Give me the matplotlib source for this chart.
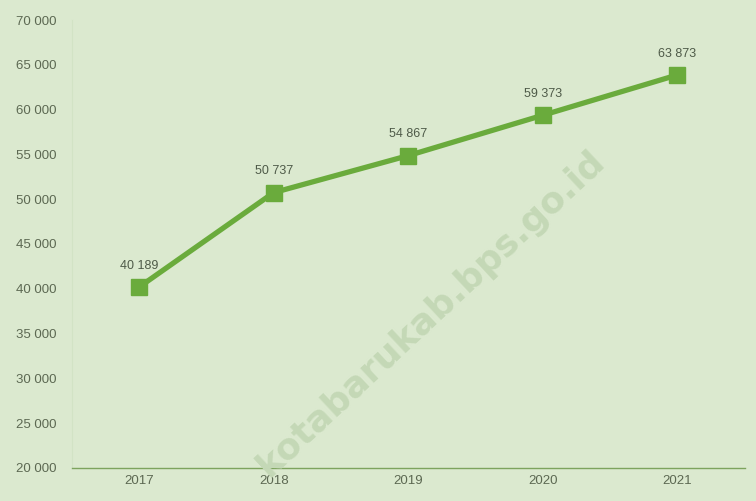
import matplotlib.pyplot as plt

plt.rcParams["font.family"] = ["Liberation Sans", "DejaVu Sans"]

years = ["2017", "2018", "2019", "2020", "2021"]
values = [40189, 50737, 54867, 59373, 63873]
labels = ["40 189", "50 737", "54 867", "59 373", "63 873"]
yticks = list(range(20000, 70001, 5000))

bg = "#dbe9cf"
line_col = "#6aab3c"
txt_col = "#5c6852"

fig = plt.figure(figsize=(7.56, 5.01), dpi=100, facecolor=bg)
ax = fig.add_axes([0.095, 0.066, 0.89, 0.894], facecolor=bg)

x = range(len(years))
ax.plot(x, values, color=line_col, lw=3.8, marker="s", ms=12,
        markerfacecolor=line_col, markeredgecolor=line_col,
        solid_joinstyle="round", zorder=3)

for i, (v, lab) in enumerate(zip(values, labels)):
    ax.annotate(lab, (i, v), xytext=(0, 11), textcoords="offset points",
                ha="center", va="bottom", fontsize=9, color="#4e5a48")

ax.set_xlim(-0.5, 4.5)
ax.set_ylim(20000, 70000)
ax.set_xticks(list(x))
ax.set_xticklabels(years)
ax.set_yticks(yticks)
ax.set_yticklabels([f"{t:,}".replace(",", " ") for t in yticks])
ax.tick_params(length=0, labelsize=9.5, colors=txt_col)
ax.tick_params(axis="y", pad=11)
ax.tick_params(axis="x", pad=5)
for s in ["top", "right"]:
    ax.spines[s].set_visible(False)
ax.spines["left"].set_color("#d2e3c5")
ax.spines["bottom"].set_color("#7da35e")
ax.spines["bottom"].set_linewidth(1.0)

# watermark
fig.text(0.57, 0.375, "kotabarukab.bps.go.id", rotation=43, fontsize=26,
         fontweight="bold", color="#c4d8b6", ha="center", va="center",
         family="DejaVu Sans", zorder=0)

fig.savefig("out.png", dpi=100, facecolor=bg)
